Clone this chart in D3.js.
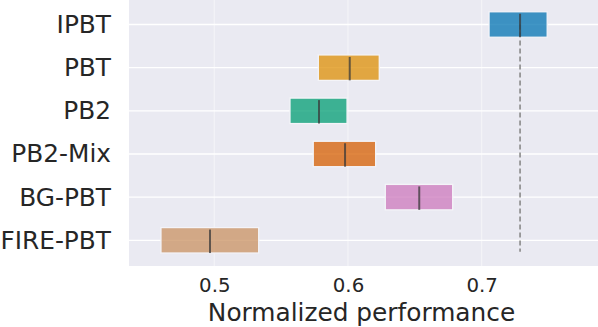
<!DOCTYPE html>
<html>
<head>
<meta charset="utf-8">
<script src="https://cdn.jsdelivr.net/npm/d3@7"></script>
<style>
    body { margin: 0; background: #fff; }
    svg { display: block; font-family: "DejaVu Sans", sans-serif; }
</style>
</head>
<body>
<div id="chart"></div>
<script>
// Dados
const methods = ['IPBT', 'PBT', 'PB2', 'PB2-Mix', 'BG-PBT', 'FIRE-PBT'];
const lows    = [0.7055, 0.5778, 0.5566, 0.5740, 0.6279, 0.4601];
const highs   = [0.7490, 0.6234, 0.5993, 0.6207, 0.6783, 0.5332];
const medians = [0.7287, 0.6013, 0.5783, 0.5978, 0.6533, 0.4968];
const colors  = ['#0173b2', '#de8f05', '#029e73', '#d55e00', '#cc78bc', '#ca9161'];
const xTicks  = [0.5, 0.6, 0.7];
const xDomain = [0.4362, 0.787];
const refValue = medians[0];

const rows = methods.map((m, i) => ({
    method: m, low: lows[i], high: highs[i], median: medians[i], color: colors[i]
}));

const W = 598, H = 327;
const margin = {top: 0, right: 0, bottom: 61, left: 129};
const width = W - margin.left - margin.right;
const height = H - margin.top - margin.bottom;

const svg = d3.select('#chart').append('svg')
    .attr('width', W)
    .attr('height', H)
    .append('g')
    .attr('transform', `translate(${margin.left},${margin.top})`);

// Escalas
const x = d3.scaleLinear().domain(xDomain).range([0, width]);
const y = d3.scalePoint().domain(methods).range([24.5, 240.3]);
const step = y.step();
const boxH = step * 0.59;

// Fundo
svg.append('rect')
    .attr('width', width)
    .attr('height', height)
    .attr('fill', '#eaeaf2');

// Grade
svg.append('g')
    .selectAll('line')
    .data(xTicks)
    .enter().append('line')
    .attr('x1', d => x(d)).attr('x2', d => x(d))
    .attr('y1', 0).attr('y2', height)
    .attr('stroke', '#ffffff')
    .attr('stroke-opacity', 0.45)
    .attr('stroke-width', 1.2);

svg.append('g')
    .selectAll('line')
    .data(methods)
    .enter().append('line')
    .attr('x1', 0).attr('x2', width)
    .attr('y1', d => y(d)).attr('y2', d => y(d))
    .attr('stroke', '#ffffff')
    .attr('stroke-width', 1.3);

// Linha de referência
svg.append('line')
    .attr('x1', x(refValue)).attr('x2', x(refValue))
    .attr('y1', y(methods[0]))
    .attr('y2', y(methods[methods.length - 1]) + step * 0.265)
    .attr('stroke', '#8a8a8a')
    .attr('stroke-width', 1.6)
    .attr('stroke-dasharray', '5,3');

// Caixas
const box = svg.selectAll('.box')
    .data(rows)
    .enter().append('g')
    .attr('class', 'box');

box.append('rect')
    .attr('x', d => x(d.low))
    .attr('y', d => y(d.method) - boxH / 2)
    .attr('width', d => x(d.high) - x(d.low))
    .attr('height', boxH)
    .attr('fill', d => d.color)
    .attr('fill-opacity', 0.75)
    .attr('stroke', '#f4f4f8')
    .attr('stroke-width', 1.3);

box.append('line')
    .attr('x1', d => x(d.median)).attr('x2', d => x(d.median))
    .attr('y1', d => y(d.method) - boxH / 2 + 2)
    .attr('y2', d => y(d.method) + boxH / 2)
    .attr('stroke', '#3a3a3a')
    .attr('stroke-opacity', 0.75)
    .attr('stroke-width', 2);

// Eixos
const yAxis = svg.append('g')
    .call(d3.axisLeft(y).tickSize(0).tickPadding(18));
yAxis.select('.domain').remove();
yAxis.selectAll('text')
    .attr('fill', '#262626')
    .style('font-size', '24.8px')
    .style('font-family', '"DejaVu Sans", sans-serif');

const xAxis = svg.append('g')
    .attr('transform', `translate(0,${height})`)
    .call(d3.axisBottom(x).tickValues(xTicks).tickFormat(d3.format('.1f')).tickSize(0).tickPadding(12));
xAxis.select('.domain').remove();
xAxis.selectAll('text')
    .attr('fill', '#262626')
    .style('font-size', '19.8px')
    .style('font-family', '"DejaVu Sans", sans-serif');

// Título do eixo
svg.append('text')
    .attr('x', 361.5 - margin.left)
    .attr('y', 321)
    .style('text-anchor', 'middle')
    .style('font-size', '24.8px')
    .attr('fill', '#262626')
    .text('Normalized performance');
</script>
</body>
</html>
